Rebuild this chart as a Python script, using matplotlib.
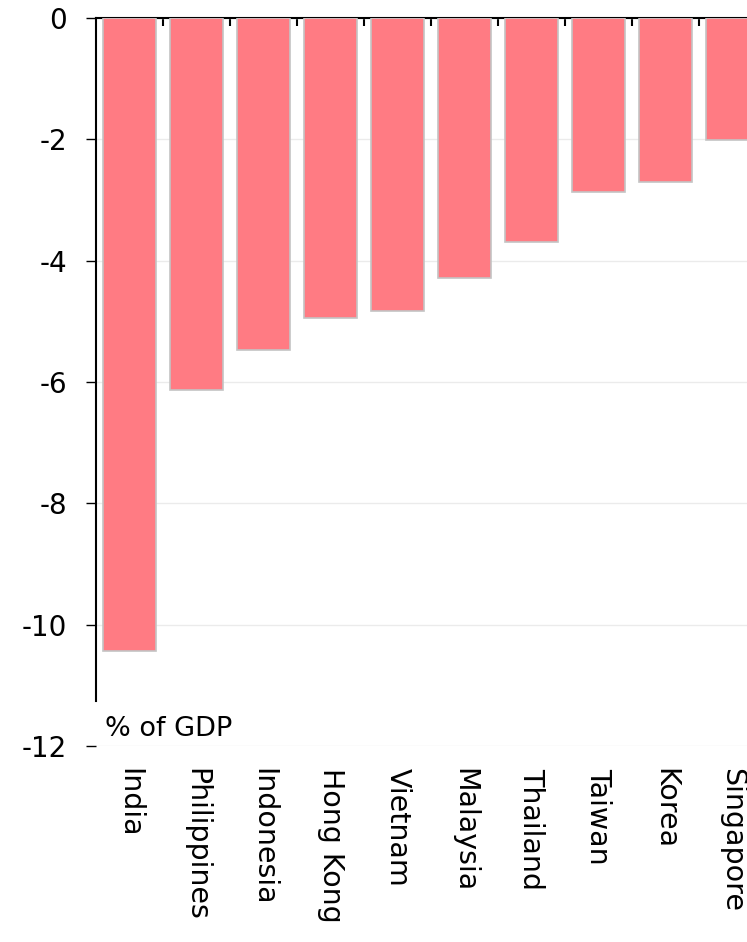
import matplotlib
matplotlib.use("Agg")
import matplotlib.pyplot as plt
import numpy as np

countries = ["India", "Philippines", "Indonesia", "Hong Kong", "Vietnam",
             "Malaysia", "Thailand", "Taiwan", "Korea", "Singapore"]
values = [-10.43, -6.13, -5.47, -4.94, -4.83, -4.29, -3.69, -2.87, -2.70, -2.01]
yticks = [0, -2, -4, -6, -8, -10, -12]
unit_label = "% of GDP"

plt.rcParams['font.family'] = ['DejaVu Sans']

fig = plt.figure(figsize=(7.47, 9.42), dpi=100)
ax = fig.add_axes([96/747, 196/942, 670/747, 728/942])

x = np.arange(len(countries))
ax.bar(x, values, width=0.8, color="#ff7b83", edgecolor="#c4c4c4", linewidth=1.2, zorder=3)

ax.set_xlim(-0.5, len(countries) - 0.5)
ax.set_ylim(-12, 0)
ax.set_yticks(yticks)
ax.set_yticklabels([str(v) for v in yticks], fontsize=20)
ax.grid(axis="y", color="#ebebeb", linewidth=1, zorder=0)

ax.set_xticks(x)
ax.set_xticklabels(countries, rotation=-90, fontsize=20.5, va="top", ha="center")
ax.tick_params(axis="x", which="major", length=0, pad=16)
ax.set_xticks(np.arange(len(countries)) + 0.5, minor=True)
ax.tick_params(axis="x", which="minor", top=True, bottom=False, direction="in",
               length=6, width=1.5, color="black")
ax.tick_params(axis="y", direction="out", length=7, width=1, pad=14)

for s in ["right", "bottom"]:
    ax.spines[s].set_visible(False)
ax.spines["top"].set_linewidth(1.5)
ax.spines["left"].set_linewidth(1.5)
ax.spines["left"].set_bounds(-11.25, 0)

ax.text(0.013, -11.72, unit_label, transform=ax.get_yaxis_transform(),
        fontsize=19.5, ha="left", va="center")

fig.savefig("out.png", dpi=100)
